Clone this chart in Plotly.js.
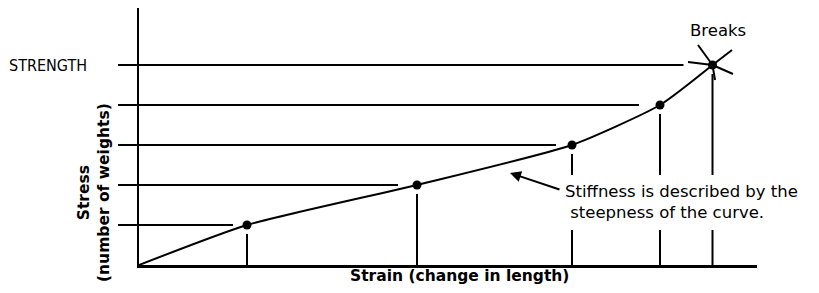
<!DOCTYPE html>
<html>
<head>
<meta charset="utf-8">
<script src="https://cdn.plot.ly/plotly-3.0.1.min.js"></script>
<style>
html,body{margin:0;padding:0;background:#fff;}
#chart{width:819px;height:293px;}
</style>
</head>
<body>
<div id="chart"></div>
<script>
// ---- data ----
const strain = [10.8, 27.8, 43.3, 52.1, 57.35];   // strain at each load step
const stress = [1, 2, 3, 4, 5];                   // number of weights
const levelLabels = ['', '', '', '', 'STRENGTH'];
const xTitle = 'Strain (change in length)';
const yTitle = 'Stress<br>(number of weights)';
const noteLines = ['Stiffness is described by the', '\u00a0steepness of the curve.'];
const breakLabel = 'Breaks';

// ---- layout constants ----
const W = 819, H = 293;
const M = {l: 139, r: 62, t: 8, b: 28};
const PW = W - M.l - M.r, PH = H - M.t - M.b;
const XR = [0, 61.8], YR = [0, 6.425];
const dxPerPx = (XR[1] - XR[0]) / PW, dyPerPx = (YR[1] - YR[0]) / PH;
const hGapPx = [14, 19, 16, 21, 29];
const vGapPx = 9;
const FONT = 'DejaVu Sans, Verdana, sans-serif';
const px2paperX = p => (p - M.l) / PW;
const px2paperY = p => (M.t + PH - p) / PH;
const px2dataX = p => XR[0] + (p - M.l) * dxPerPx;
const px2dataY = p => YR[0] + (M.t + PH - p) * dyPerPx;

// guide lines
const hx = [], hy = [], vx = [], vy = [];
strain.forEach((s, i) => {
  hx.push(0, s - hGapPx[i] * dxPerPx, null);
  hy.push(stress[i], stress[i], null);
  vx.push(s, s, null);
  vy.push(0, stress[i] - vGapPx * dyPerPx, null);
});

const traces = [
  {x: hx, y: hy, mode: 'lines', line: {color: '#000', width: 2}, hoverinfo: 'skip', showlegend: false},
  {x: vx, y: vy, mode: 'lines', line: {color: '#000', width: 2}, hoverinfo: 'skip', showlegend: false},
  {x: [0].concat(strain), y: [0].concat(stress), mode: 'lines',
   line: {color: '#000', width: 2, shape: 'spline', smoothing: 0.55}, showlegend: false},
  {x: strain, y: stress, mode: 'markers', marker: {color: '#000', size: 9}, showlegend: false}
];

// star rays at break point (pixel offsets, y up)
const rays = [[-14.5, 20], [19.5, 15], [20.5, -9], [-24.5, 3], [2.5, -15]];
const bx = strain[strain.length - 1], by = stress[stress.length - 1];
const shapes = rays.map(r => ({
  type: 'line', xref: 'x', yref: 'y', xsizemode: 'pixel', ysizemode: 'pixel',
  xanchor: bx, yanchor: by, x0: 0, y0: 0, x1: r[0], y1: r[1],
  line: {color: '#000', width: 2}
}));
// white backing behind the note (breaks the guide lines)
shapes.push({type: 'rect', xref: 'paper', yref: 'paper', layer: 'above',
  x0: px2paperX(559), x1: px2paperX(812), y0: px2paperY(230), y1: px2paperY(175),
  fillcolor: '#fff', line: {width: 0}});

const annotations = [
  {text: levelLabels[4], xref: 'paper', yref: 'paper', x: px2paperX(7), y: px2paperY(65),
   xanchor: 'left', yanchor: 'middle', showarrow: false,
   font: {family: 'Liberation Sans Narrow, DejaVu Sans Condensed, sans-serif', size: 16, color: '#000'}},
  {text: breakLabel, xref: 'paper', yref: 'paper', x: px2paperX(718), y: px2paperY(30),
   xanchor: 'center', yanchor: 'middle', showarrow: false,
   font: {family: FONT, size: 16.5, color: '#000'}},
  {text: '<b>' + xTitle + '</b>', xref: 'paper', yref: 'paper', x: px2paperX(459), y: px2paperY(276),
   xanchor: 'center', yanchor: 'middle', showarrow: false,
   font: {family: FONT, size: 15.5, color: '#000'}},
  {text: '<b>' + yTitle + '</b>', xref: 'paper', yref: 'paper', x: px2paperX(94), y: px2paperY(193),
   xanchor: 'center', yanchor: 'middle', showarrow: false, textangle: -90,
   font: {family: FONT, size: 15.5, color: '#000'}},
  {text: noteLines.join('<br>'), xref: 'x', yref: 'y', x: px2dataX(563), y: px2dataY(202),
   xanchor: 'left', yanchor: 'middle', align: 'left', showarrow: false,
   font: {family: FONT, size: 16.5, color: '#000'}},
  {text: '', xref: 'x', yref: 'y', x: px2dataX(510), y: px2dataY(173),
   showarrow: true, ax: 51, ay: 17, arrowhead: 2, arrowsize: 1.1, arrowwidth: 2,
   arrowcolor: '#000', standoff: 0}
];

const layout = {
  width: W, height: H,
  margin: M,
  paper_bgcolor: '#fff', plot_bgcolor: '#fff',
  showlegend: false,
  xaxis: {range: XR, showgrid: false, zeroline: false, showline: true, linecolor: '#000',
          linewidth: 2.5, ticks: '', showticklabels: false, fixedrange: true},
  yaxis: {range: YR, showgrid: false, zeroline: false, showline: true, linecolor: '#000',
          linewidth: 2.5, ticks: 'outside', ticklen: 19, tickwidth: 2, tickcolor: '#000',
          tickvals: stress, showticklabels: false, fixedrange: true},
  shapes: shapes,
  annotations: annotations
};

Plotly.newPlot('chart', traces, layout, {displayModeBar: false, staticPlot: true});
</script>
</body>
</html>
